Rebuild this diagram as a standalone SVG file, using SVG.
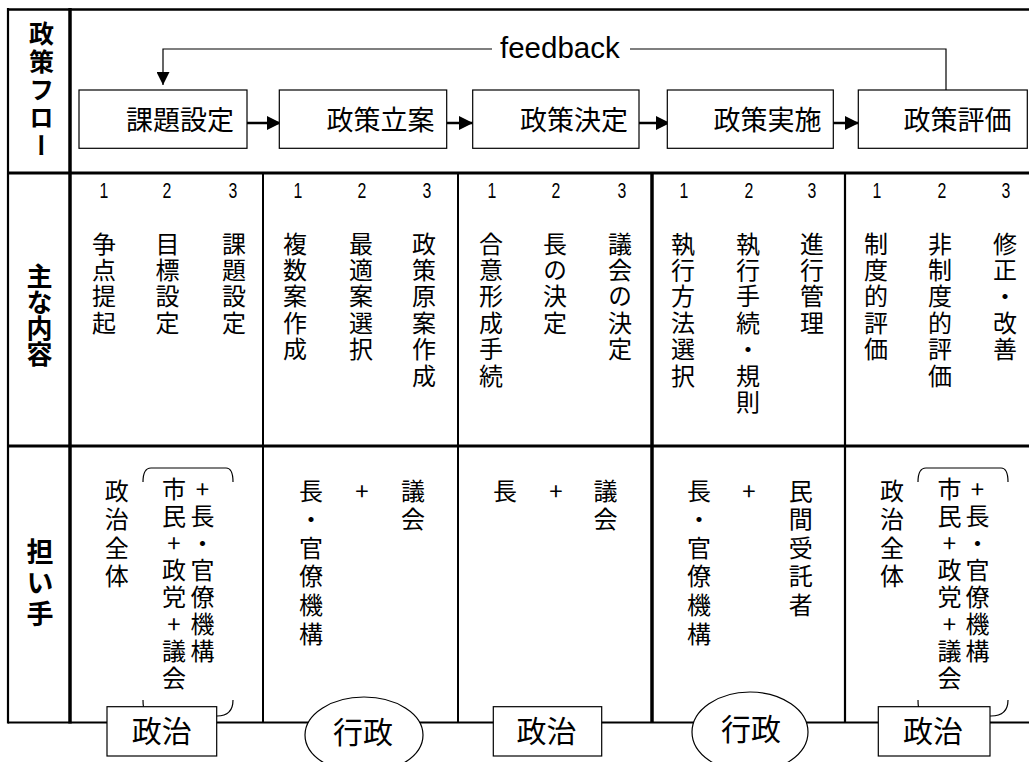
<svg xmlns="http://www.w3.org/2000/svg" width="1029" height="762" viewBox="0 0 1029 762">
<defs>
<marker id="ah" viewBox="0 0 14 14" refX="14" refY="7" markerWidth="14" markerHeight="14" markerUnits="userSpaceOnUse" orient="auto">
<path d="M0,0 L14,7 L0,14 Z" fill="#000"/>
</marker>
<marker id="fh" viewBox="0 0 13 13" refX="13" refY="6.5" markerWidth="13" markerHeight="13" markerUnits="userSpaceOnUse" orient="auto">
<path d="M0,0 L13,6.5 L0,13 Z" fill="#000"/>
</marker>
</defs>
<style>
.t{font-family:"Noto Sans CJK JP","Noto Sans CJK SC",sans-serif;fill:#000;text-anchor:middle}
.vt{font-family:"Noto Sans CJK JP","Noto Sans CJK SC",sans-serif;fill:#000;writing-mode:vertical-rl;text-orientation:upright;text-anchor:start}
.h{font-size:27px}
.r2{font-size:24px;letter-spacing:2.4px}
.r3{font-size:24px;letter-spacing:4.6px}
.pr{font-size:24px;letter-spacing:3px}
.v{font-size:24px}
.b{font-weight:bold}
.lb{font-size:30px}
.num{font-family:"Liberation Sans",Arial,sans-serif;font-size:22px;text-anchor:middle;fill:#000}
.fb{font-family:"Liberation Sans",Arial,sans-serif;font-size:29.5px;fill:#000}
.box{fill:#fff;stroke:#000;stroke-width:1.2}
.ln{stroke:#000;fill:none}
.br{stroke:#000;fill:none;stroke-width:1.2}
</style>
<rect width="1029" height="762" fill="#fff"/>

<g id="grid" class="ln">
<path d="M8,9.5 H1029" stroke-width="2.5"/>
<path d="M8,8 V723.5" stroke-width="2.2"/>
<path d="M70,8 V723.5" stroke-width="3.5"/>
<path d="M8,173 H1029" stroke-width="3"/>
<path d="M8,446 H1029" stroke-width="3"/>
<path d="M8,722.5 H1029" stroke-width="2"/>
<path d="M263,173 V722" stroke-width="2"/>
<path d="M458,173 V722" stroke-width="2"/>
<path d="M652,173 V722" stroke-width="3.5"/>
<path d="M845,173 V722" stroke-width="2.2"/>
</g>

<g id="row-labels">
<text class="vt b" x="41.5" y="21" style="text-orientation:mixed;font-size:25px;letter-spacing:3px">政策フロー</text>
<text class="vt b" x="39.5" y="263.5" style="font-size:26px">主な内容</text>
<text class="vt b" x="40" y="538.5" style="font-size:27px;letter-spacing:4px">担い手</text>
</g>

<g id="connectors">
<path class="ln" d="M946,90 V49 H630" stroke-width="1.2"/>
<path class="ln" d="M492,49 H163 V85" stroke-width="1.2" marker-end="url(#fh)"/>
<path class="ln" d="M247,123 H281" stroke-width="2.5" marker-end="url(#ah)"/>
<path class="ln" d="M446.7,123 H473" stroke-width="2.5" marker-end="url(#ah)"/>
<path class="ln" d="M639,123 H670" stroke-width="2.5" marker-end="url(#ah)"/>
<path class="ln" d="M833,123 H859" stroke-width="2.5" marker-end="url(#ah)"/>
<text class="fb" x="500" y="58">feedback</text>
</g>

<g id="n-kadai"><rect class="box" x="79" y="90" width="168" height="58.3"/><text class="t h" x="180" y="130">課題設定</text></g>
<g id="n-ritsuan"><rect class="box" x="279.3" y="90" width="167.4" height="58.3"/><text class="t h" x="380.5" y="130">政策立案</text></g>
<g id="n-kettei"><rect class="box" x="472.7" y="90" width="166.3" height="58.3"/><text class="t h" x="574" y="130">政策決定</text></g>
<g id="n-jisshi"><rect class="box" x="667.3" y="90" width="166" height="58.3"/><text class="t h" x="767.5" y="130">政策実施</text></g>
<g id="n-hyoka"><rect class="box" x="858.3" y="90" width="169" height="58.3"/><text class="t h" x="957.5" y="130">政策評価</text></g>

<g id="numbers">
<text class="num" transform="translate(104,198) scale(0.72,1)">1</text>
<text class="num" transform="translate(167,198) scale(0.72,1)">2</text>
<text class="num" transform="translate(233,198) scale(0.72,1)">3</text>
<text class="num" transform="translate(298,198) scale(0.72,1)">1</text>
<text class="num" transform="translate(362,198) scale(0.72,1)">2</text>
<text class="num" transform="translate(427,198) scale(0.72,1)">3</text>
<text class="num" transform="translate(492,198) scale(0.72,1)">1</text>
<text class="num" transform="translate(556,198) scale(0.72,1)">2</text>
<text class="num" transform="translate(622,198) scale(0.72,1)">3</text>
<text class="num" transform="translate(684,198) scale(0.72,1)">1</text>
<text class="num" transform="translate(749,198) scale(0.72,1)">2</text>
<text class="num" transform="translate(812,198) scale(0.72,1)">3</text>
<text class="num" transform="translate(877,198) scale(0.72,1)">1</text>
<text class="num" transform="translate(942,198) scale(0.72,1)">2</text>
<text class="num" transform="translate(1006,198) scale(0.72,1)">3</text>
</g>

<g id="content">
<text class="vt r2" x="104" y="231.5">争点提起</text>
<text class="vt r2" x="167.5" y="231.5">目標設定</text>
<text class="vt r2" x="234" y="231.5">課題設定</text>
<text class="vt r2" x="295" y="231.5">複数案作成</text>
<text class="vt r2" x="361" y="231.5">最適案選択</text>
<text class="vt r2" x="424" y="231.5">政策原案作成</text>
<text class="vt r2" x="491" y="231.5">合意形成手続</text>
<text class="vt r2" x="555" y="231.5">長の決定</text>
<text class="vt r2" x="620" y="231.5">議会の決定</text>
<text class="vt r2" x="683" y="231.5">執行方法選択</text>
<text class="vt r2" x="748" y="231.5">執行手続・規則</text>
<text class="vt r2" x="812" y="231.5">進行管理</text>
<text class="vt r2" x="876" y="231.5">制度的評価</text>
<text class="vt r2" x="940" y="231.5">非制度的評価</text>
<text class="vt r2" x="1005" y="231.5">修正・改善</text>
</g>

<g id="actors">
<text class="vt r3" x="116.7" y="478.5">政治全体</text>
<text class="vt pr" x="174" y="476.5">市民+政党+議会</text>
<text class="vt pr" x="202.5" y="476.5">+長・官僚機構</text>

<text class="vt r3" x="311" y="478.5">長・官僚機構</text>
<text class="t v" x="362" y="500">+</text>
<text class="vt r3" x="413" y="478.5">議会</text>

<text class="t v" x="505" y="500">長</text>
<text class="t v" x="556" y="500">+</text>
<text class="vt r3" x="605.5" y="478.5">議会</text>

<text class="vt r3" x="699" y="478.5">長・官僚機構</text>
<text class="t v" x="749" y="500">+</text>
<text class="vt r3" x="800.7" y="478.5">民間受託者</text>

<text class="vt r3" x="892" y="478.5">政治全体</text>
<text class="vt pr" x="949.5" y="476.5">市民+政党+議会</text>
<text class="vt pr" x="977.5" y="476.5">+長・官僚機構</text>
</g>

<g id="brackets" class="br">
<path d="M143,482 Q143,468 151,468 H226 Q233,468 233,482"/>
<path d="M143,700 Q143,716 151,716 H217 Q233,716 233,700"/>
<path d="M918,482 Q918,468 926,468 H1001 Q1008,468 1008,482"/>
<path d="M918,700 Q918,716 926,716 H991 Q1008,716 1008,700"/>
</g>

<g id="n-seiji-1"><rect class="box" x="107" y="706.7" width="109.7" height="49.3"/><text class="t lb" x="161.7" y="742">政治</text></g>
<g id="n-gyosei-1"><ellipse cx="364" cy="735" rx="59" ry="38" fill="#fff" stroke="#000" stroke-width="1.2"/><text class="t lb" x="363" y="743">行政</text></g>
<g id="n-seiji-2"><rect class="box" x="493.3" y="706.7" width="108.4" height="49.3"/><text class="t lb" x="546.5" y="742">政治</text></g>
<g id="n-gyosei-2"><ellipse cx="750" cy="732" rx="58" ry="40" fill="#fff" stroke="#000" stroke-width="1.2"/><text class="t lb" x="751" y="740">行政</text></g>
<g id="n-seiji-3"><rect class="box" x="878.3" y="706.7" width="111.7" height="49.3"/><text class="t lb" x="933" y="742">政治</text></g>
</svg>
